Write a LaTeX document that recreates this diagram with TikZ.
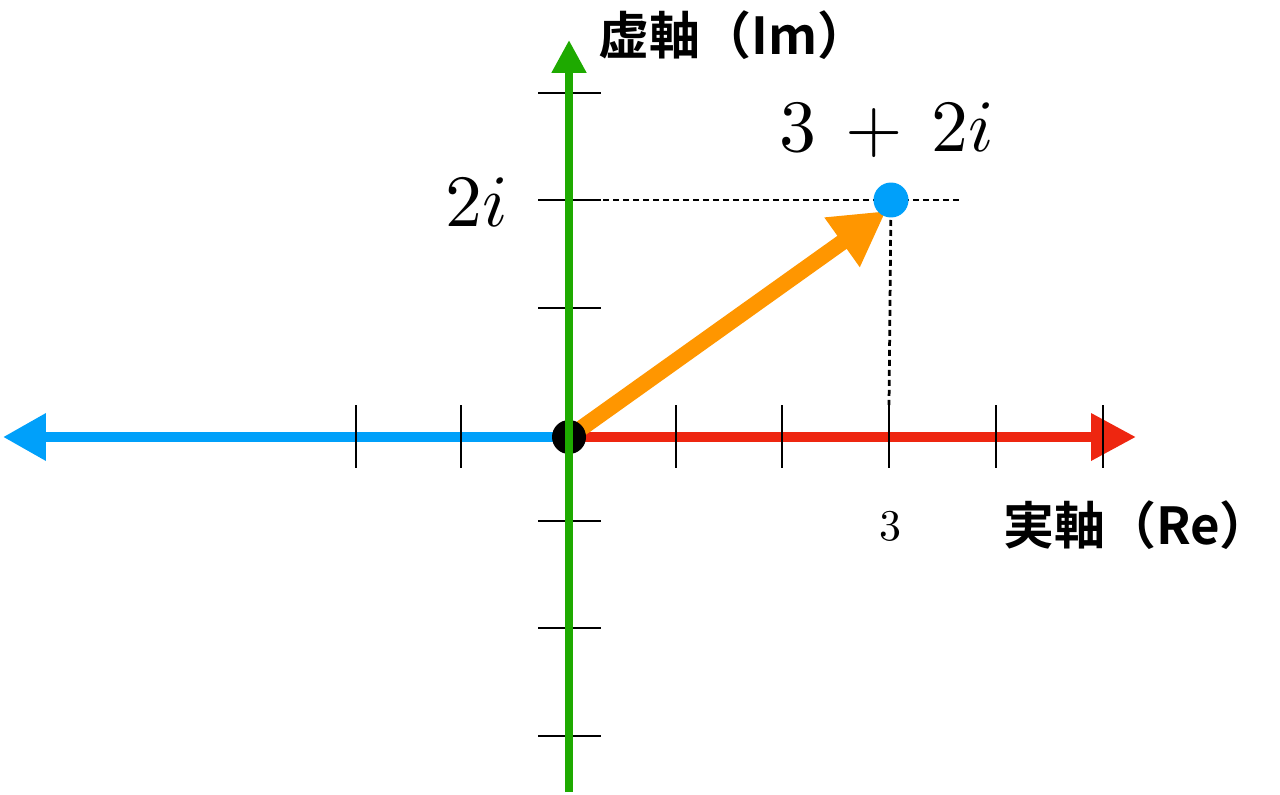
\documentclass[tikz,border=0pt]{standalone}
\usepackage{fontspec}
\usepackage{unicode-math}
\setmathfont{Latin Modern Math}
\newfontfamily\cjk{Noto Sans CJK JP}[BoldFont={Noto Sans CJK JP Bold}]
\usetikzlibrary{arrows.meta}
\definecolor{axblue}{RGB}{0,160,250}
\definecolor{axred}{RGB}{238,38,16}
\definecolor{axgreen}{RGB}{30,170,0}
\definecolor{vorange}{RGB}{255,150,0}
\tikzset{
  tick/.style={line width=0.055cm, black},
  guide/.style={line width=0.055cm, black, dash pattern=on 0.12cm off 0.08cm},
  mathlbl/.style={font=\fontsize{42}{44}\selectfont, inner sep=0pt},
  axlbl/.style={font=\cjk\bfseries\fontsize{29}{31}\selectfont, inner sep=0pt},
}
\begin{document}
\begin{tikzpicture}[x=0.02cm,y=-0.02cm]
\useasboundingbox (0,0) rectangle (1280,794);
\coordinate (O) at (569,437);
\coordinate (L) at (3,437);
\coordinate (R) at (1136,437);
\coordinate (T) at (569,40);
\coordinate (B) at (569,792);
\coordinate (P) at (891,200);
\coordinate (Ptip) at (886,211);
% real axis
\draw[axblue, line width=0.2cm, -{Triangle[length=0.86cm,width=0.9cm]}] (O) -- (L);
\draw[axred, line width=0.2cm, -{Triangle[length=0.9cm,width=0.9cm]}] (O) -- (R);
\foreach \x in {356,461,676,782,889,996,1103}
  \draw[tick] (\x,405) -- (\x,468);
% vector
\draw[vorange, line width=0.32cm, -{Triangle[length=1.08cm,width=1.14cm]}] (O) -- (Ptip);
\fill[black] (O) circle (0.34cm);
% imaginary axis
\foreach \y in {93,200,308,521,628,736}
  \draw[tick] (538,\y) -- (601,\y);
\draw[axgreen, line width=0.16cm, -{Triangle[length=0.66cm,width=0.66cm]}] (B) -- (T);
% guides
\coordinate (Hstart) at (603,200);
\coordinate (Hend) at (962,200);
\coordinate (Vend) at (889,405);
\draw[guide] (Hstart) -- (Hend);
\draw[guide] (P) -- (Vend);
\fill[axblue] (P) circle (0.35cm);
% labels
\node[mathlbl] (pl) at (887,130) {$3\,+\,2i$};
\node[mathlbl] (il) at (477,202) {$2i$};
\node[font=\fontsize{25}{27}\selectfont, inner sep=0pt] (tl) at (890,526) {$3$};
\node[axlbl, anchor=west] (re) at (1003,525) {実軸（Re）};
\node[axlbl, anchor=west] (im) at (598,35) {虚軸（Im）};
\end{tikzpicture}
\end{document}
